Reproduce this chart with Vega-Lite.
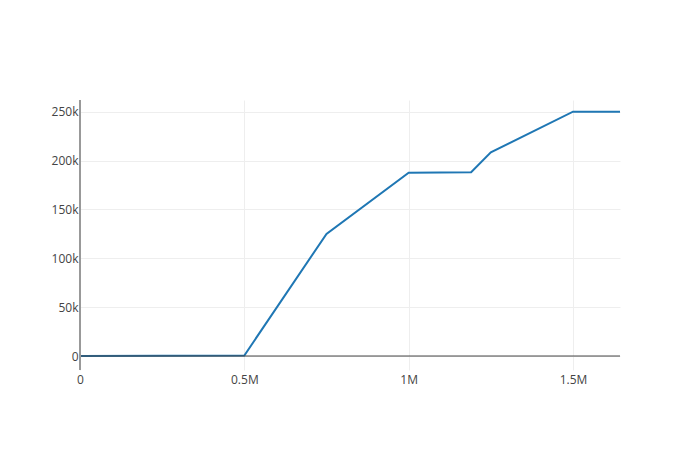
{
  "$schema": "https://vega.github.io/schema/vega-lite/v6.json",
  "width": 540,
  "height": 270,
  "autosize": {"type": "none"},
  "padding": {"left": 80, "top": 100, "right": 80, "bottom": 80},
  "background": "white",
  "config": {
    "view": {"stroke": null},
    "axis": {"labelFont": "Open Sans", "labelFontSize": 12, "labelColor": "#444", "gridColor": "#eeeeee", "gridWidth": 1, "ticks": false, "domain": false, "title": null, "labelFlush": false}
  },
  "data": {"values": [
    {"x": 0, "y": 0},
    {"x": 500000, "y": 600},
    {"x": 750000, "y": 125000},
    {"x": 1000000, "y": 187500},
    {"x": 1190000, "y": 188000},
    {"x": 1250000, "y": 208500},
    {"x": 1500000, "y": 250000},
    {"x": 1643000, "y": 250000}
  ]},
  "layer": [
    {
      "mark": {"type": "line", "color": "#1f77b4", "strokeWidth": 2, "clip": true},
      "encoding": {
        "x": {"field": "x", "type": "quantitative", "scale": {"domain": [0, 1643000], "nice": false, "zero": false},
          "axis": {"values": [0, 500000, 1000000, 1500000], "labelPadding": 4, "labelExpr": "datum.value == 0 ? '0' : (datum.value / 1000000) + 'M'"}},
        "y": {"field": "y", "type": "quantitative", "scale": {"domain": [-14300, 262000], "nice": false, "zero": false},
          "axis": {"values": [0, 50000, 100000, 150000, 200000, 250000], "labelPadding": 2, "labelExpr": "datum.value == 0 ? '0' : (datum.value / 1000) + 'k'"}}
      }
    },
    {
      "data": {"values": [{"y": 0}]},
      "mark": {"type": "rule", "color": "#444444", "strokeWidth": 1},
      "encoding": {"y": {"field": "y", "type": "quantitative"}}
    },
    {
      "data": {"values": [{"x": 0}]},
      "mark": {"type": "rule", "color": "#999999", "strokeWidth": 2},
      "encoding": {"x": {"field": "x", "type": "quantitative"}}
    }
  ]
}
